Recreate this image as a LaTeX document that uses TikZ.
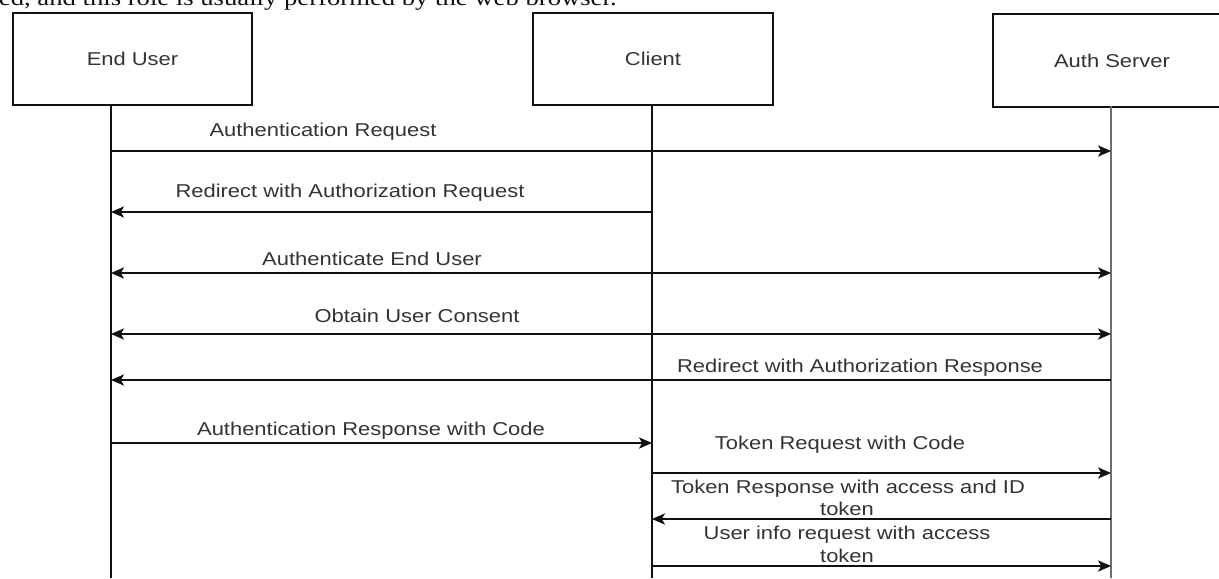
\documentclass[tikz,border=0pt]{standalone}
\usepackage{fontspec}
\setmainfont{Liberation Serif}
\newfontfamily\labfont[FakeStretch=1.18]{Liberation Sans}
\newfontfamily\topfont[FakeStretch=1.18]{Liberation Serif}
\usetikzlibrary{arrows.meta}
\definecolor{txt}{HTML}{333333}
\definecolor{ln}{HTML}{111111}
\definecolor{lifegray}{HTML}{6E6E6E}
\begin{document}
\begin{tikzpicture}[x=0.5pt,y=-0.5pt,
  box/.style={draw=ln,line width=1pt,inner sep=0pt,anchor=north west,
    font=\labfont\fontsize{9.3pt}{11pt}\selectfont,text=txt},
  lab/.style={font=\labfont\fontsize{9.3pt}{11pt}\selectfont,text=txt,
    anchor=base,inner sep=0pt,align=center},
  life/.style={draw=ln,line width=1pt},
  msg/.style={draw=ln,line width=0.9pt,-{Stealth[length=6.5pt,width=5.6pt,inset=1.6pt]}},
  msgb/.style={draw=ln,line width=0.9pt,{Stealth[length=6.5pt,width=5.6pt,inset=1.6pt]}-{Stealth[length=6.5pt,width=5.6pt,inset=1.6pt]}}]
\useasboundingbox (0,0) rectangle (1219,578);
\clip (0,0) rectangle (1219,578);

% cropped line of text at the top
\node[anchor=base east,inner sep=0pt,text=ln,font=\topfont\fontsize{11.3pt}{13pt}\selectfont] (toptext) at (617,5)
  {ed, and this role is usually performed by the web browser.};

% participant boxes
\node[box,minimum width=119.5pt,minimum height=46pt] (eu) at (12,12) {End User};
\node[box,minimum width=120pt,minimum height=46pt] (cl) at (532,12) {Client};
\node[box,minimum width=119pt,minimum height=46.5pt] (as) at (992,13) {Auth Server};

% lifelines
\coordinate (lu) at (111,104);
\coordinate (lc) at (652,104);
\coordinate (la) at (1111,106);
\coordinate (bottom) at (0,578);
\draw[life] (lu) -- (lu |- bottom);
\draw[life] (lc) -- (lc |- bottom);
\draw[line width=1pt,draw=lifegray] (la) -- (la |- bottom);

% message heights
\coordinate (m1) at (0,151);
\coordinate (m2) at (0,212);
\coordinate (m3) at (0,273);
\coordinate (m4) at (0,334);
\coordinate (m5) at (0,380);
\coordinate (m6) at (0,443);
\coordinate (m7) at (0,473);
\coordinate (m8) at (0,519);
\coordinate (m9) at (0,566);

\draw[msg]  (lu |- m1) -- (la |- m1);
\draw[msg]  (lc |- m2) -- (lu |- m2);
\draw[msgb] (lu |- m3) -- (la |- m3);
\draw[msgb] (lu |- m4) -- (la |- m4);
\draw[msg]  (la |- m5) -- (lu |- m5);
\draw[msg]  (lu |- m6) -- (lc |- m6);
\draw[msg]  (lc |- m7) -- (la |- m7);
\draw[msg]  (la |- m8) -- (lc |- m8);
\draw[msg]  (lc |- m9) -- (la |- m9);

% labels
\node[lab] (t1) at (323,136) {Authentication Request};
\node[lab] (t2) at (350,197) {Redirect with Authorization Request};
\node[lab] (t3) at (372,265) {Authenticate End User};
\node[lab] (t4) at (417,322) {Obtain User Consent};
\node[lab] (t5) at (860,372) {Redirect with Authorization Response};
\node[lab] (t6) at (371,435) {Authentication Response with Code};
\node[lab] (t7) at (840,449) {Token Request with Code};
\node[lab] (t8a) at (848,493) {Token Response with access and ID};
\node[lab] (t8b) at (847,515) {token};
\node[lab] (t9a) at (847,539) {User info request with access};
\node[lab] (t9b) at (847,562) {token};
\end{tikzpicture}
\end{document}
